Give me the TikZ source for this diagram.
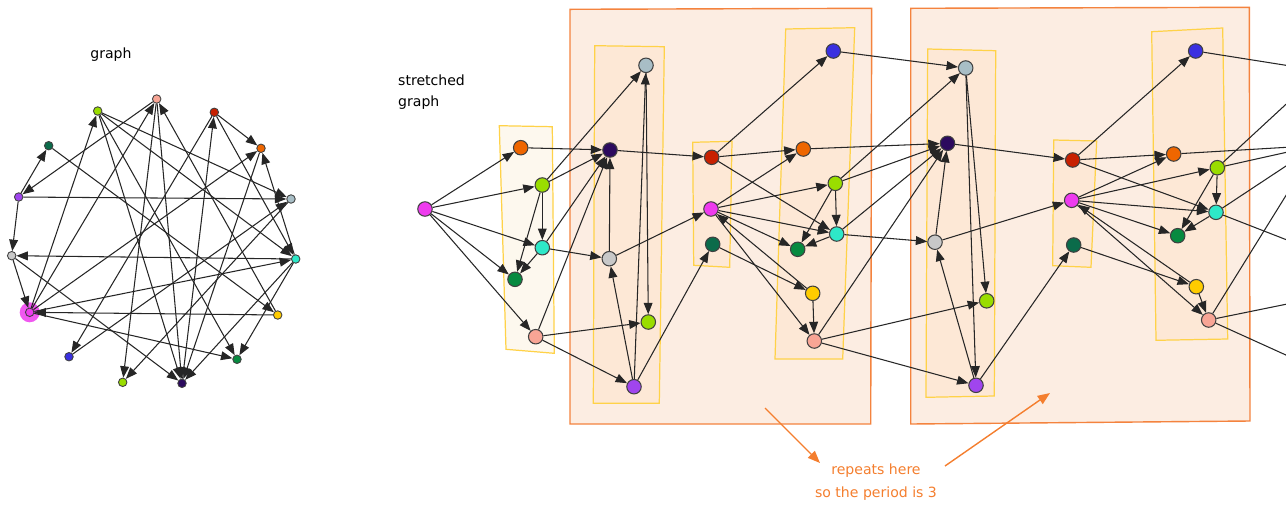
\documentclass[tikz,border=0pt]{standalone}
\usepackage{fontspec}
\setmainfont{DejaVu Sans}
\usetikzlibrary{arrows.meta}

\definecolor{cMag}{HTML}{EE3BEE}
\definecolor{cOra}{HTML}{EE6600}
\definecolor{cLim}{HTML}{9ADD00}
\definecolor{cCya}{HTML}{2EE8C8}
\definecolor{cDte}{HTML}{0B6B4A}
\definecolor{cGrn}{HTML}{078A40}
\definecolor{cSal}{HTML}{F8A595}
\definecolor{cLbl}{HTML}{A8BEC6}
\definecolor{cInd}{HTML}{2C0A5E}
\definecolor{cGry}{HTML}{C8C8C8}
\definecolor{cVio}{HTML}{A045EE}
\definecolor{cRed}{HTML}{C82000}
\definecolor{cBlu}{HTML}{3A30E0}
\definecolor{cYel}{HTML}{FFCC00}
\definecolor{boxfill}{HTML}{FCEDE2}
\definecolor{boxline}{HTML}{F4833E}
\definecolor{colfill}{HTML}{FDE8D6}
\definecolor{colline}{HTML}{FFD248}
\definecolor{firstfill}{HTML}{FDF8EE}
\definecolor{notecol}{HTML}{F47E2E}

\tikzset{
  vtx/.style={circle, draw=black!75, line width=0.6pt, minimum size=0.29cm, inner sep=0pt},
  dot/.style={circle, draw=black!75, line width=0.5pt, minimum size=0.17cm, inner sep=0pt},
  arr/.style={-{Triangle[length=6.5pt,width=5pt]}, line width=0.6pt, black!85},
  bigbox/.style={fill=boxfill, draw=boxline, line width=0.8pt},
  colbox/.style={fill=colfill, draw=colline, line width=0.7pt},
  txt/.style={font=\fontsize{8}{12}\selectfont},
  note/.style={text=notecol, font=\fontsize{8}{13}\selectfont, align=center},
  notearr/.style={-{Triangle[length=7pt,width=5.5pt]}, draw=notecol, line width=0.8pt}
}

\begin{document}
\begin{tikzpicture}[x=0.02cm,y=-0.02cm]
    \useasboundingbox (0,0) rectangle (1286,508);
    \clip (0,0) rectangle (1286,508);

    \node[txt] (ttlgraph) at (111,55) {graph};
    \node[txt, anchor=west, align=left] (ttlstretch) at (392,92.5) {stretched\\graph};

    \coordinate (lMc) at (29.7,312.3);
    \fill[cMag!85] (lMc) circle (0.2cm);

    \node[dot, fill=cSal] (lS) at (156.7,99) {};
    \node[dot, fill=cLim] (lLc) at (97.7,111) {};
    \node[dot, fill=cRed] (lR) at (214.3,112.3) {};
    \node[dot, fill=cDte] (lD) at (48.7,145.7) {};
    \node[dot, fill=cOra] (lO) at (261,148.3) {};
    \node[dot, fill=cVio] (lV) at (18.7,197) {};
    \node[dot, fill=cLbl] (lLB) at (291,199) {};
    \node[dot, fill=cGry] (lG) at (11.7,255.7) {};
    \node[dot, fill=cCya] (lC) at (295.7,259) {};
    \node[dot, fill=cMag] (lM) at (lMc) {};
    \node[dot, fill=cYel] (lY) at (277.7,315) {};
    \node[dot, fill=cBlu] (lB) at (69,356.7) {};
    \node[dot, fill=cGrn] (lGr) at (237,359.3) {};
    \node[dot, fill=cLim] (lLa) at (122.7,382.3) {};
    \node[dot, fill=cInd] (lI) at (182,383.3) {};

    \path[arr] (lI) edge (lR);
    \path[arr] (lG) edge (lM) edge (lI);
    \path[arr] (lV) edge (lD) edge (lG) edge (lLB);
    \path[arr] (lLB) edge (lLa);
    \path[arr] (lR) edge (lB) edge (lO) edge (lC);
    \path[arr] (lM) edge (lO) edge (lLc) edge (lC) edge (lGr) edge (lS);
    \path[arr] (lD) edge (lY);
    \path[arr] (lY) edge (lM) edge (lS);
    \path[arr] (lLc) edge (lC) edge (lGr) edge (lLB) edge (lI);
    \path[arr] (lC) edge (lGr) edge (lI) edge (lG) edge (lO);
    \path[arr] (lB) edge (lLB);
    \path[arr] (lO) edge (lI);
    \path[arr] (lS) edge (lI) edge (lLa) edge (lV);

    \filldraw[fill=firstfill, draw=colline, line width=0.7pt] (499.3,125.7) -- (552.3,126.7) -- (554.3,353.3) -- (506,349.3) -- cycle;
    \filldraw[bigbox] (570,9.3) -- (871.7,8.3) -- (870.7,424) -- (570,424) -- cycle;
    \filldraw[bigbox] (910.7,8.3) -- (1249.3,7.3) -- (1250,421) -- (910.7,424) -- cycle;
    \filldraw[colbox] (594.7,45.7) -- (664.3,46.7) -- (659.3,403.3) -- (593.3,403.3) -- cycle;
    \filldraw[colbox] (692.7,142.3) -- (732,141.3) -- (729.7,267.3) -- (693.7,265.3) -- cycle;
    \filldraw[colbox] (785.7,29) -- (854.7,27.7) -- (842.7,359) -- (775,359) -- cycle;
    \filldraw[colbox] (927.7,49) -- (995.7,50.7) -- (994.3,396) -- (926,397.3) -- cycle;
    \filldraw[colbox] (1053.7,140) -- (1096.7,141) -- (1091,267.3) -- (1052.7,265.7) -- cycle;
    \filldraw[colbox] (1151.7,31.7) -- (1222.7,28) -- (1227.7,339) -- (1156,340.3) -- cycle;

    \node[vtx, fill=cMag] (ma0) at (425,209) {};

    \node[vtx, fill=cOra] (or1) at (520.7,147.7) {};
    \node[vtx, fill=cLim] (li1) at (542.3,185) {};
    \node[vtx, fill=cCya] (cy1) at (542.3,247.7) {};
    \node[vtx, fill=cGrn] (gn1) at (515,279.3) {};
    \node[vtx, fill=cSal] (sa1) at (535.7,336.7) {};

    \node[vtx, fill=cLbl] (lb2) at (646,65.3) {};
    \node[vtx, fill=cInd] (in2) at (610,150) {};
    \node[vtx, fill=cGry] (gy2) at (609.3,258.7) {};
    \node[vtx, fill=cLim] (la2) at (648.3,322) {};
    \node[vtx, fill=cVio] (vi2) at (634,386.7) {};

    \node[vtx, fill=cRed] (re3) at (711.7,157.3) {};
    \node[vtx, fill=cMag] (ma3) at (711,209) {};
    \node[vtx, fill=cDte] (dt3) at (712.7,244.3) {};

    \node[vtx, fill=cBlu] (bl4) at (833.3,51) {};
    \node[vtx, fill=cOra] (or4) at (803.3,149) {};
    \node[vtx, fill=cLim] (li4) at (835.3,183.3) {};
    \node[vtx, fill=cCya] (cy4) at (836.7,234) {};
    \node[vtx, fill=cGrn] (gn4) at (797.7,249.3) {};
    \node[vtx, fill=cYel] (ye4) at (812.7,293.3) {};
    \node[vtx, fill=cSal] (sa4) at (814.3,341) {};

    \node[vtx, fill=cLbl] (lb5) at (965.7,68) {};
    \node[vtx, fill=cInd] (in5) at (947.5,143.3) {};
    \node[vtx, fill=cGry] (gy5) at (935,242.2) {};
    \node[vtx, fill=cLim] (la5) at (986.7,300.8) {};
    \node[vtx, fill=cVio] (vi5) at (976,385.3) {};

    \node[vtx, fill=cRed] (re6) at (1072.7,160) {};
    \node[vtx, fill=cMag] (ma6) at (1071.7,200.3) {};
    \node[vtx, fill=cDte] (dt6) at (1073.7,245) {};

    \node[vtx, fill=cBlu] (bl7) at (1195.7,51) {};
    \node[vtx, fill=cOra] (or7) at (1173.7,154) {};
    \node[vtx, fill=cLim] (li7) at (1217.3,167.7) {};
    \node[vtx, fill=cCya] (cy7) at (1216,212.3) {};
    \node[vtx, fill=cGrn] (gn7) at (1177.7,235.7) {};
    \node[vtx, fill=cYel] (ye7) at (1196.3,286.7) {};
    \node[vtx, fill=cSal] (sa7) at (1208.7,320) {};

    \coordinate (lb8) at (1322,71);
    \coordinate (in8) at (1317,145.5);
    \coordinate (gy8) at (1305,247);
    \coordinate (la8) at (1356,290);
    \coordinate (vi8) at (1330,375);

    \path[arr] (ma0) edge (or1) edge (li1) edge (cy1) edge (gn1) edge (sa1);

    \path[arr] (li1) edge (cy1) edge (gn1) edge (lb2) edge (in2);
    \path[arr] (cy1) edge (gn1) edge (in2) edge (gy2);
    \path[arr] (or1) edge (in2);
    \path[arr] (sa1) edge (in2) edge (la2) edge (vi2);

    \path[arr] (gy2) edge (in2) edge (ma3);
    \path[arr] (vi2) edge (gy2) edge (lb2) edge (dt3);
    \path[arr] (lb2) edge (la2);
    \path[arr] (in2) edge (re3);

    \path[arr] (re3) edge (bl4) edge (or4) edge (cy4);
    \path[arr] (ma3) edge (or4) edge (li4) edge (cy4) edge (gn4) edge (sa4);
    \path[arr] (dt3) edge (ye4);
    \path[arr] (ye4) edge (ma3) edge (sa4);
    \path[arr] (li4) edge (cy4) edge (gn4) edge (lb5) edge (in5);
    \path[arr] (cy4) edge (gn4) edge (in5) edge (gy5);
    \path[arr] (bl4) edge (lb5);
    \path[arr] (or4) edge (in5);
    \path[arr] (sa4) edge (in5) edge (la5) edge (vi5);

    \path[arr] (gy5) edge (in5) edge (ma6);
    \path[arr] (vi5) edge (gy5) edge (dt6);
    \path[arr] (lb5) edge (vi5) edge (la5);
    \path[arr] (in5) edge (re6);

    \path[arr] (re6) edge (bl7) edge (or7) edge (cy7);
    \path[arr] (ma6) edge (or7) edge (li7) edge (cy7) edge (gn7) edge (sa7);
    \path[arr] (dt6) edge (ye7);
    \path[arr] (ye7) edge (ma6) edge (sa7);
    \path[arr] (li7) edge (cy7) edge (gn7) edge (lb8) edge (in8);
    \path[arr] (cy7) edge (gn7) edge (in8) edge (gy8);
    \path[arr] (bl7) edge (lb8);
    \path[arr] (or7) edge (in8);
    \path[arr] (sa7) edge (in8) edge (la8) edge (vi8);

    \node[note] (period) at (876,482.5) {repeats here\\so the period is 3};
    \coordinate (tailL) at (765,408);
    \coordinate (headL) at (820,463);
    \coordinate (tailR) at (945,466);
    \coordinate (headR) at (1050,393);
    \draw[notearr] (tailL) -- (headL);
    \draw[notearr] (tailR) -- (headR);
\end{tikzpicture}
\end{document}
